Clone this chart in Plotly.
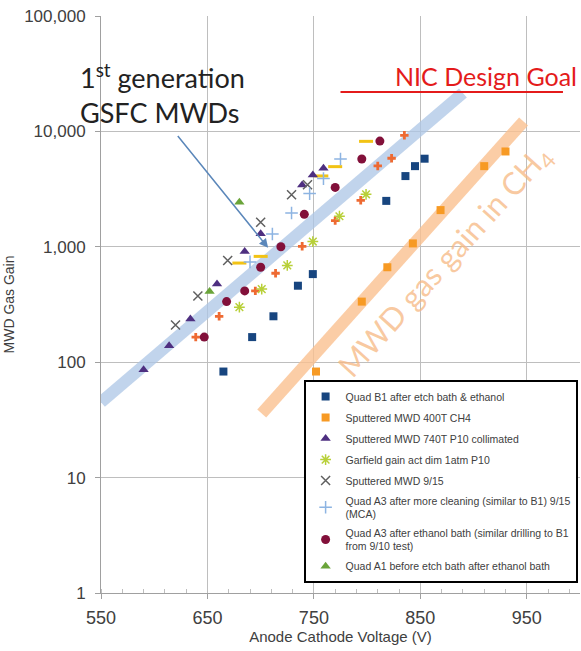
import numpy as np
import plotly.graph_objects as go

# Quad B1 after etch bath & ethanol
b1_v = [665, 692, 712, 735, 749, 818, 836, 845, 854]
b1_g = [83, 165, 250, 460, 580, 2500, 4100, 5000, 5800]

# Sputtered MWD 400T CH4
ch4_v = [752, 795, 819, 843, 869, 910, 930]
ch4_g = [83, 335, 665, 1070, 2080, 5000, 6700]

# Sputtered MWD 740T P10 collimated
p10_v = [590, 614, 634, 659, 685, 700, 739, 749, 759]
p10_g = [86, 139, 237, 475, 910, 1300, 3430, 4200, 4800]

# Garfield gain act dim 1atm P10
garf_v = [680, 701, 725, 749, 774, 799]
garf_g = [300, 430, 690, 1110, 1840, 2850]

# Sputtered MWD 9/15
s915_v = [620, 641, 669, 700, 729, 744]
s915_g = [210, 375, 760, 1630, 2830, 3450]

# Quad A3 after more cleaning (MCA)
a3c_v = [690, 711, 729, 746, 759, 775]
a3c_g = [740, 1290, 1960, 2890, 3900, 5770]

# Quad A3 after ethanol bath
a3e_v = [647, 668, 685, 700, 719, 741, 770, 795, 812]
a3e_g = [165, 335, 415, 665, 1000, 1910, 3270, 5770, 8240]

# Quad A1 before etch bath after ethanol bath
a1_v = [652, 680]
a1_g = [410, 2430]

# series without a visible legend entry
orng_v = [639, 661, 695, 714, 739, 770, 794, 810, 823, 835]
orng_g = [165, 250, 415, 590, 1010, 1685, 2530, 5020, 5850, 9250]
yel_v = [680, 700, 757, 770, 799]
yel_g = [723, 826, 4110, 4950, 8200]

# guide bands and goal line
p10_band_v = [550, 890]
p10_band_g = [45, 21500]
ch4_band_v = [701, 947]
ch4_band_g = [36, 12200]
goal_v = [775, 984]
goal_g = [22000, 22000]

y_ticks = [1, 10, 100, 1000, 10000, 100000]
y_labels = ["1", "10", "100", "1,000", "10,000", "100,000"]
x_ticks = [550, 650, 750, 850, 950]

fig = go.Figure()

fig.add_trace(go.Scatter(x=p10_band_v, y=p10_band_g, mode="lines",
                         line=dict(color="rgba(172,198,229,0.75)", width=12),
                         showlegend=False, hoverinfo="skip"))
fig.add_trace(go.Scatter(x=ch4_band_v, y=ch4_band_g, mode="lines",
                         line=dict(color="rgba(250,192,144,0.8)", width=12),
                         showlegend=False, hoverinfo="skip"))
fig.add_trace(go.Scatter(x=goal_v, y=goal_g, mode="lines",
                         line=dict(color="#E41B1B", width=2),
                         showlegend=False, hoverinfo="skip"))

fig.add_trace(go.Scatter(x=orng_v, y=orng_g, mode="markers", showlegend=False,
                         marker=dict(symbol="cross", size=7, color="#EE6A32")))
fig.add_trace(go.Scatter(x=yel_v, y=yel_g, mode="markers", showlegend=False,
                         marker=dict(symbol="line-ew-open", size=10, color="#F2C314",
                                     line=dict(color="#F2C314", width=3))))

series = [
    ("Quad B1 after etch bath & ethanol", b1_v, b1_g,
     dict(symbol="square", size=8, color="#17457F")),
    ("Sputtered MWD 400T CH4", ch4_v, ch4_g,
     dict(symbol="square", size=8, color="#F79A24")),
    ("Sputtered MWD 740T P10 collimated", p10_v, p10_g,
     dict(symbol="triangle-up", size=9, color="#4E2F80")),
    ("Garfield gain act dim 1atm P10", garf_v, garf_g,
     dict(symbol="asterisk-open", size=9, color="#B8D039",
          line=dict(color="#B8D039", width=1.5))),
    ("Sputtered MWD 9/15", s915_v, s915_g,
     dict(symbol="x-thin-open", size=9, color="#606060",
          line=dict(color="#606060", width=1.5))),
    ("Quad A3 after more cleaning (similar to B1) 9/15<br>(MCA)", a3c_v, a3c_g,
     dict(symbol="cross-thin-open", size=9, color="#8DB4E2",
          line=dict(color="#8DB4E2", width=1.5))),
    ("Quad A3 after ethanol bath (similar drilling to B1<br>from 9/10 test)", a3e_v, a3e_g,
     dict(symbol="circle", size=9, color="#82103A")),
    ("Quad A1 before etch bath after ethanol bath", a1_v, a1_g,
     dict(symbol="triangle-up", size=9, color="#6AA43A")),
]
for name, xv, yv, mk in series:
    fig.add_trace(go.Scatter(x=xv, y=yv, mode="markers", name=name,
                             legendgroup=name, marker=mk))

fig.add_annotation(x=707, y=np.log10(980), ax=621, ay=np.log10(9400),
                   xref="x", yref="y", axref="x", ayref="y", text="",
                   showarrow=True, arrowhead=2, arrowsize=1.2, arrowwidth=1.5,
                   arrowcolor="#5B87BA")
fig.add_annotation(x=-0.048, y=0.865, xref="paper", yref="paper",
                   xanchor="left", yanchor="middle", align="left", showarrow=False,
                   text="1<sup>st</sup> generation<br>GSFC MWDs",
                   font=dict(family="Lato", size=27, color="#222222"))
fig.add_annotation(x=0.997, y=np.log10(30500), xref="paper", yref="y",
                   xanchor="right", yanchor="middle", showarrow=False,
                   text="NIC Design Goal",
                   font=dict(family="Lato", size=25, color="#E41B1B"))
fig.add_annotation(x=874, y=2.87, xref="x", yref="y", showarrow=False,
                   textangle=-48, text="MWD gas gain in CH<sub>4</sub>",
                   font=dict(family="Lato", size=31, color="rgba(246,184,130,0.75)"))

fig.update_layout(
    width=581, height=651,
    margin=dict(l=101, r=1, t=16, b=58),
    paper_bgcolor="white", plot_bgcolor="white",
    font=dict(family="Liberation Sans", color="#404040"),
    legend=dict(x=0.995, xanchor="right", y=0.369, yanchor="top",
                bgcolor="white", bordercolor="black", borderwidth=2,
                font=dict(size=10.5, color="#404040"), tracegroupgap=2),
)
fig.update_xaxes(range=[550, 1000], tickvals=x_ticks,
                 showgrid=True, gridcolor="#BEBEBE", gridwidth=1,
                 showline=True, linecolor="#A0A0A0", ticks="outside",
                 ticklen=5, tickcolor="#A0A0A0", zeroline=False,
                 tickfont=dict(size=18), ticklabelstandoff=3,
                 minor=dict(dtick=20, tick0=550, ticks="inside", ticklen=4,
                            tickcolor="#BEBEBE", showgrid=False),
                 title=dict(text="Anode Cathode Voltage (V)", font=dict(size=15),
                            standoff=4))
fig.update_yaxes(type="log", range=[0, 5], tickvals=y_ticks, ticktext=y_labels,
                 showgrid=True, gridcolor="#BEBEBE", gridwidth=1,
                 showline=True, linecolor="#A0A0A0", ticks="outside",
                 ticklen=5, tickcolor="#A0A0A0", zeroline=False,
                 tickfont=dict(size=17), ticklabelstandoff=6,
                 title=dict(text="MWD Gas Gain", font=dict(size=14), standoff=6))

# drop the default page margin so the figure sits at the window's corner
fig.write_html("out.html", config={"displayModeBar": False},
               post_script="document.body.style.margin='0';")
